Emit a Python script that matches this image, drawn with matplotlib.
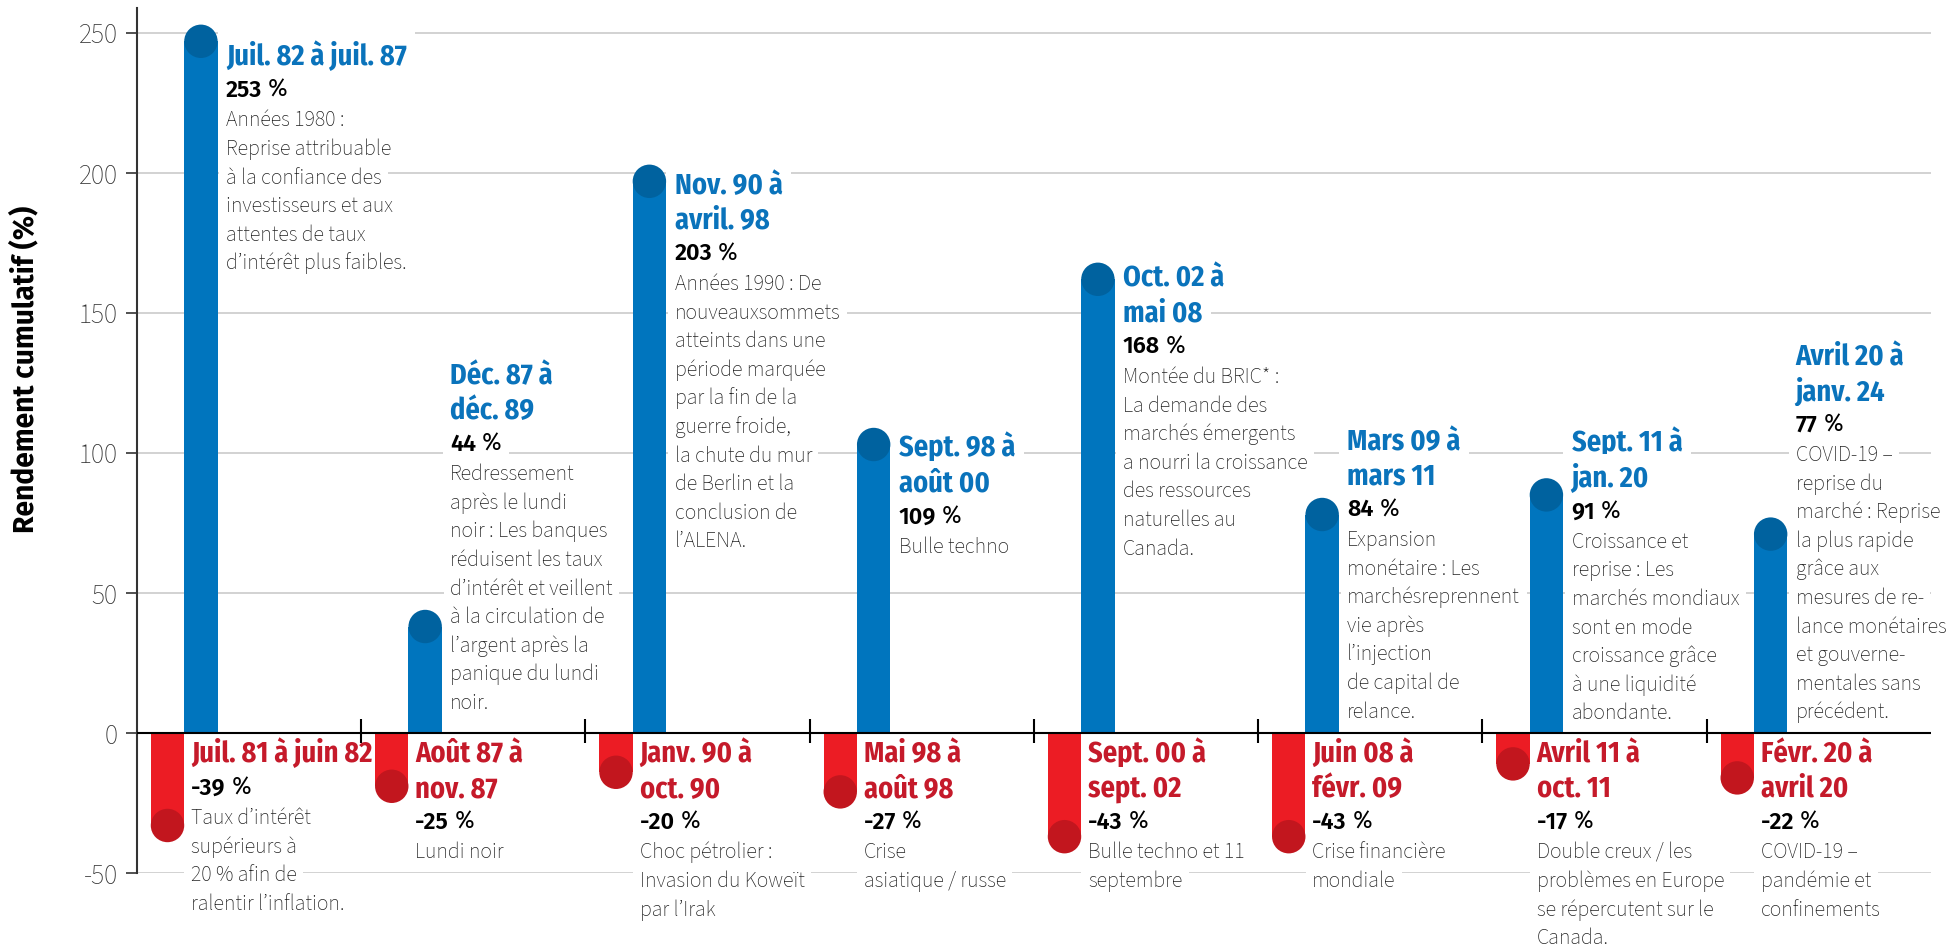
import matplotlib
matplotlib.use("Agg")

import matplotlib.pyplot as plt
import numpy as np
from matplotlib import font_manager
from matplotlib.patches import Ellipse


# ---------------------------------------------------------------- data
GAINS = [253, 44, 203, 109, 168, 84, 91, 77]
LOSSES = [-39, -25, -20, -27, -43, -43, -17, -22]

GAIN_PERIODS = [
    "Juil. 82 à juil. 87",
    "Déc. 87 à\ndéc. 89",
    "Nov. 90 à\navril. 98",
    "Sept. 98 à\naoût 00",
    "Oct. 02 à\nmai 08",
    "Mars 09 à\nmars 11",
    "Sept. 11 à\njan. 20",
    "Avril 20 à\njanv. 24",
]

LOSS_PERIODS = [
    "Juil. 81 à juin 82",
    "Août 87 à\nnov. 87",
    "Janv. 90 à\noct. 90",
    "Mai 98 à\naoût 98",
    "Sept. 00 à\nsept. 02",
    "Juin 08 à\nfévr. 09",
    "Avril 11 à\noct. 11",
    "Févr. 20 à\navril 20",
]

GAIN_NOTES = [
    "Années 1980 :\nReprise attribuable\nà la confiance des\ninvestisseurs et aux\n"
    "attentes de taux\nd’intérêt plus faibles.",
    "Redressement\naprès le lundi\nnoir : Les banques\nréduisent les taux\n"
    "d’intérêt et veillent\nà la circulation de\nl’argent après la\n"
    "panique du lundi\nnoir.",
    "Années 1990 : De\nnouveauxsommets\natteints dans une\npériode marquée\n"
    "par la fin de la\nguerre froide,\nla chute du mur\nde Berlin et la\n"
    "conclusion de\nl’ALENA.",
    "Bulle techno",
    "Montée du BRIC* :\nLa demande des\nmarchés émergents\n"
    "a nourri la croissance\ndes ressources\nnaturelles au\nCanada.",
    "Expansion\nmonétaire : Les\nmarchésreprennent\nvie après\n"
    "l’injection\nde capital de\nrelance.",
    "Croissance et\nreprise : Les\nmarchés mondiaux\nsont en mode\n"
    "croissance grâce\nà une liquidité\nabondante.",
    "COVID-19 –\nreprise du\nmarché : Reprise\nla plus rapide\ngrâce aux\n"
    "mesures de re-\nlance monétaires\net gouverne-\nmentales sans\nprécédent.",
]

LOSS_NOTES = [
    "Taux d’intérêt\nsupérieurs à\n20 % afin de\nralentir l’inflation.",
    "Lundi noir",
    "Choc pétrolier :\nInvasion du Koweït\npar l’Irak",
    "Crise\nasiatique / russe",
    "Bulle techno et 11\nseptembre",
    "Crise financière\nmondiale",
    "Double creux / les\nproblèmes en Europe\nse répercutent sur le\nCanada.",
    "COVID-19 –\npandémie et\nconfinements",
]

Y_TICKS = [-50, 0, 50, 100, 150, 200, 250]
Y_LABEL = "Rendement cumulatif (%)"

# ---------------------------------------------------------------- layout
# baseline of the first title line of each gain label (data units)
GAIN_LABEL_Y = [238.6, 124.6, 192.5, 98.6, 159.3, 101.1, 100.4, 131.4]
LOSS_LABEL_Y = -10.5

BLUE = "#0075BE"
BLUE_CAP = "#00629F"
BLUE_TEXT = "#0A73BB"
RED = "#EC1C24"
RED_CAP = "#C2161E"
RED_TEXT = "#C51A2A"
GRID = "#CFCFCF"
BODY = "#222222"


def first_installed(*names):
    installed = {f.name for f in font_manager.fontManager.ttflist}
    for name in names:
        if name in installed:
            return [name, "DejaVu Sans"]
    return ["DejaVu Sans"]


FONT_COND = first_installed("Fira Sans Condensed", "Roboto Condensed")
FONT_BODY = first_installed("Source Sans 3", "Source Sans Pro", "Fira Sans", "Open Sans")
FONT_BOLD = first_installed("Fira Sans", "Open Sans")

DPI = 100
FIG_W, FIG_H = 1956, 949
AX_LEFT, AX_RIGHT = 137, 1931
AX_BOTTOM, AX_TOP = 873, 7.8
Y_MIN, Y_MAX = -50, 259

BAR_W = 0.149
LOSS_OFFSET = 0.136
GAIN_OFFSET = 0.285
LOSS_TEXT_OFFSET = 0.241
GAIN_TEXT_OFFSET = 0.397

# vertical steps between text lines, pixels
TITLE_STEP = 34.5
VALUE_STEP = 32
BODY_FIRST = 29.5
BODY_STEP = 28.6

WHITE_BOX = dict(boxstyle="square,pad=0.3", fc="white", ec="none")


fig = plt.figure(
    figsize=(FIG_W / DPI, FIG_H / DPI),
    dpi=DPI,
)
renderer = fig.canvas.get_renderer()


def fit_size(sample, family, weight, width_px, guess=16):
    """
    Font size that gives the sample the width it has in the reference.
    """

    t = fig.text(0, 0, sample, family=family, fontweight=weight, fontsize=guess)
    width = t.get_window_extent(renderer).width
    t.remove()
    return guess * width_px / width


TITLE_SIZE = fit_size("Juil. 82 à juil. 87", FONT_COND, 700, 181)
VALUE_SIZE = fit_size("253 %", FONT_BOLD, 600, 62)
BODY_SIZE = fit_size("Reprise attribuable", FONT_BODY, 300, 166)
TICK_SIZE = fit_size("250", FONT_BODY, 300, 39)
YLABEL_SIZE = fit_size(Y_LABEL, FONT_BOLD, 700, 327)


def put_line(ax, x, y, offset_px, text, family, boxed=True, **kwargs):
    """
    Draw one text line, by default on a white box that cuts the gridlines.
    """

    return ax.annotate(
        text,
        xy=(x, y),
        xytext=(0, -offset_px * 72 / DPI),
        textcoords="offset points",
        ha="left",
        va="baseline",
        family=family,
        bbox=WHITE_BOX if boxed else None,
        zorder=3,
        annotation_clip=False,
        **kwargs,
    )


def draw_label(ax, x, y, period, value, note, title_color):
    """
    Period title, bold value with a light percent sign, and the note.
    """

    offset = 0
    for i, line in enumerate(period.split("\n")):
        if i:
            offset += TITLE_STEP
        put_line(
            ax, x, y, offset, line, FONT_COND,
            fontsize=TITLE_SIZE,
            fontweight=700,
            color=title_color,
        )

    offset += VALUE_STEP
    # invisible copy only for the white background
    put_line(
        ax, x, y, offset, f"{value} %", FONT_BOLD,
        fontsize=VALUE_SIZE,
        fontweight=600,
        color="none",
    )
    number = put_line(
        ax, x, y, offset, f"{value}", FONT_BOLD,
        boxed=False,
        fontsize=VALUE_SIZE,
        fontweight=600,
        color="black",
    )
    ax.annotate(
        " %",
        xy=(1, 0),
        xycoords=number,
        ha="left",
        va="bottom",
        family=FONT_BOLD,
        fontsize=VALUE_SIZE,
        fontweight=400,
        color="black",
        zorder=3.5,
        annotation_clip=False,
    )

    offset += BODY_FIRST
    for j, line in enumerate(note.split("\n")):
        if j:
            offset += BODY_STEP
        put_line(
            ax, x, y, offset, line, FONT_BODY,
            fontsize=BODY_SIZE,
            fontweight=300,
            color=BODY,
        )


def draw_bars(ax, centers, values, color, cap_color, r_y):
    """
    Bars ending in a darker round cap.
    """

    values = np.asarray(values, dtype=float)
    sign = np.sign(values)

    ax.bar(
        centers,
        values - sign * r_y,
        width=BAR_W,
        color=color,
        edgecolor="none",
        zorder=4,
    )

    for cx, v, s in zip(centers, values, sign):
        ax.add_patch(
            Ellipse(
                (cx, v - s * r_y),
                width=BAR_W,
                height=2 * r_y,
                facecolor=cap_color,
                edgecolor="none",
                zorder=4,
            )
        )


ax = fig.add_axes(
    [
        AX_LEFT / FIG_W,
        1 - AX_BOTTOM / FIG_H,
        (AX_RIGHT - AX_LEFT) / FIG_W,
        (AX_BOTTOM - AX_TOP) / FIG_H,
    ]
)

n = len(GAINS)
ax.set_xlim(0, n)
ax.set_ylim(Y_MIN, Y_MAX)

px_per_x = (AX_RIGHT - AX_LEFT) / n
px_per_y = (AX_BOTTOM - AX_TOP) / (Y_MAX - Y_MIN)
r_y = BAR_W * px_per_x / 2 / px_per_y

groups = np.arange(n)

draw_bars(ax, groups + LOSS_OFFSET, LOSSES, RED, RED_CAP, r_y)
draw_bars(ax, groups + GAIN_OFFSET, GAINS, BLUE, BLUE_CAP, r_y)

for i in range(n):
    draw_label(
        ax, i + GAIN_TEXT_OFFSET, GAIN_LABEL_Y[i],
        GAIN_PERIODS[i], GAINS[i], GAIN_NOTES[i], BLUE_TEXT,
    )
    draw_label(
        ax, i + LOSS_TEXT_OFFSET, LOSS_LABEL_Y,
        LOSS_PERIODS[i], LOSSES[i], LOSS_NOTES[i], RED_TEXT,
    )

# gridlines, zero line and group separators
for t in Y_TICKS:
    if t != 0:
        ax.axhline(t, color=GRID, lw=1.3, zorder=0.5)

ax.axhline(0, color="black", lw=1.5, zorder=5)
ax.vlines(
    groups[1:],
    -10 / px_per_y,
    14 / px_per_y,
    color="black",
    lw=1.5,
    zorder=5,
)

for side in ("top", "right", "bottom"):
    ax.spines[side].set_visible(False)
ax.spines["left"].set_color("#333333")
ax.spines["left"].set_linewidth(1.5)
ax.spines["left"].set_bounds(Y_MIN, Y_MAX)

ax.set_xticks([])
ax.set_yticks(Y_TICKS)
ax.set_yticklabels([str(t) for t in Y_TICKS])
ax.tick_params(
    axis="y",
    direction="out",
    length=8,
    width=1.2,
    color="#333333",
    pad=6,
    labelsize=TICK_SIZE,
    labelcolor="#333333",
)
for lbl in ax.get_yticklabels():
    lbl.set_family(FONT_BODY)
    lbl.set_fontweight(300)

fig.text(
    25 / FIG_W,
    1 - 369 / FIG_H,
    Y_LABEL,
    rotation=90,
    ha="center",
    va="center",
    family=FONT_BOLD,
    fontsize=YLABEL_SIZE,
    fontweight=700,
    color="black",
)

fig.savefig("out.png", dpi=DPI)
plt.close(fig)
